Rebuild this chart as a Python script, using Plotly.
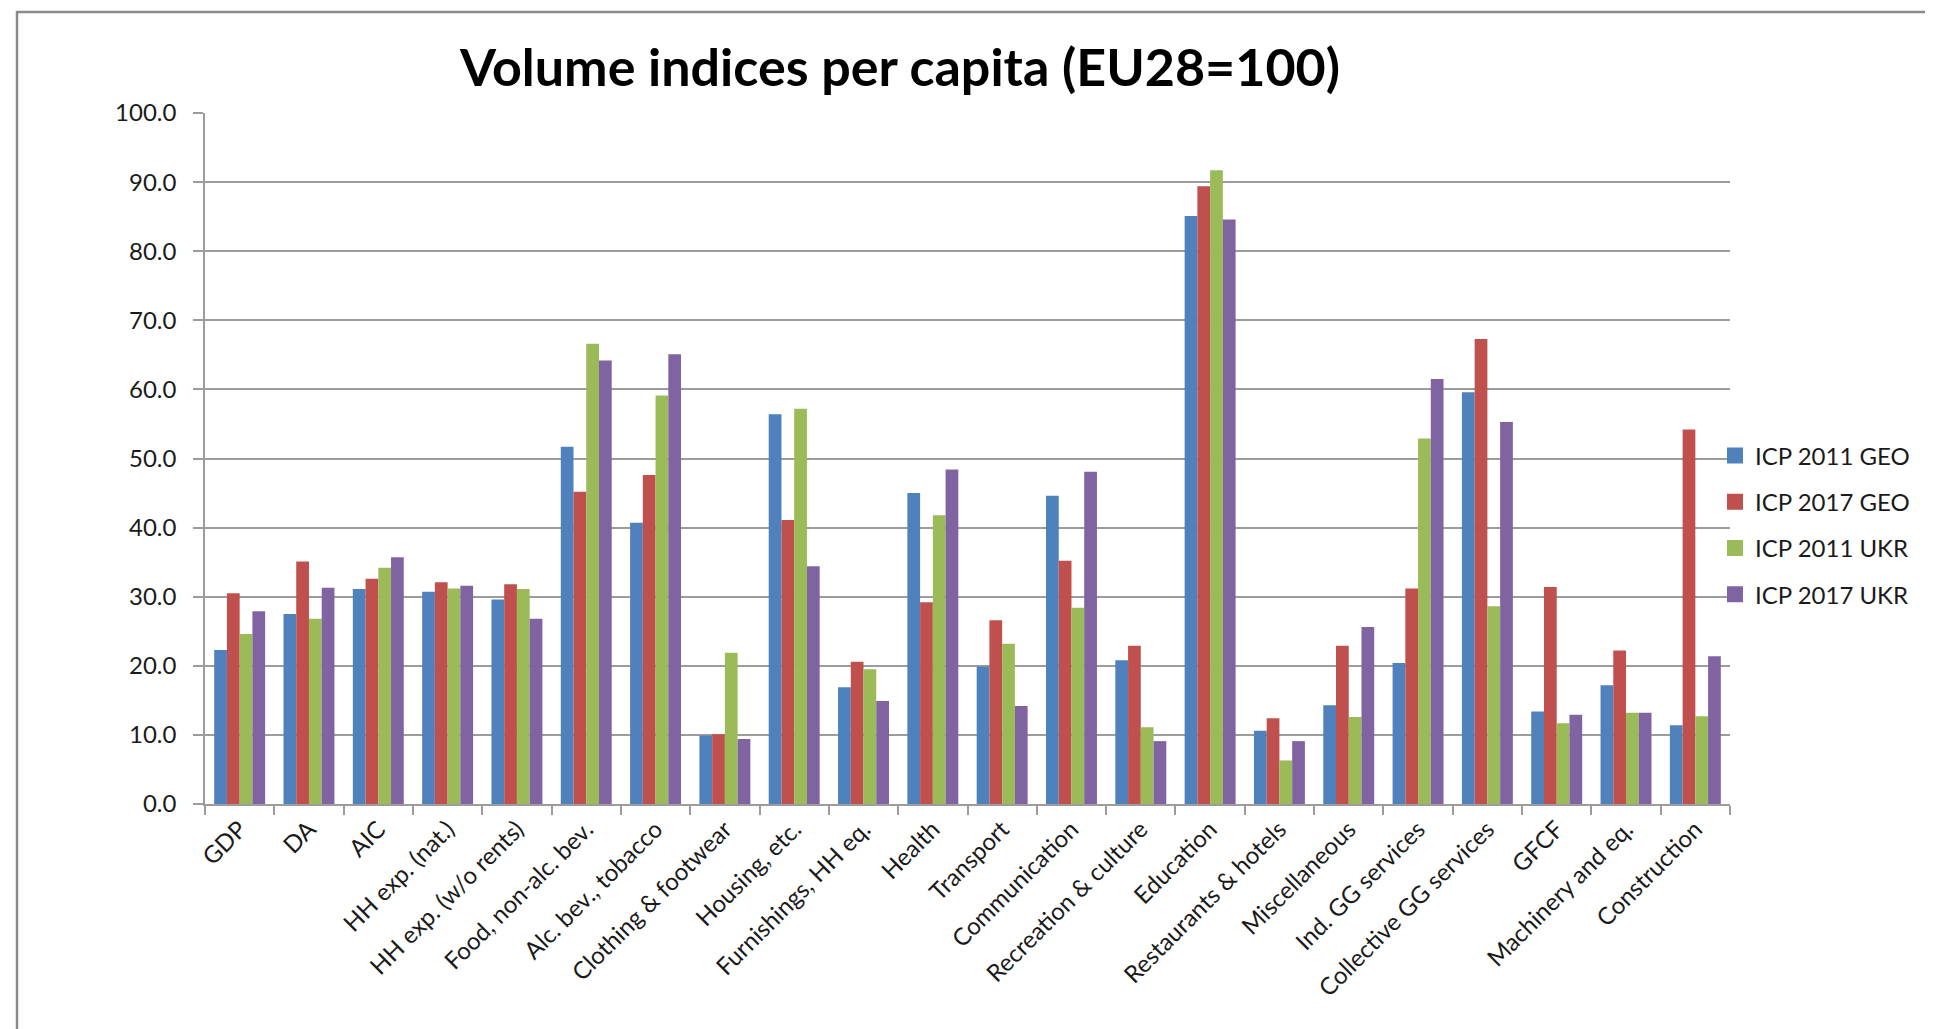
import plotly.graph_objects as go

categories = ["GDP", "DA", "AIC", "HH exp. (nat.)", "HH exp. (w/o rents)",
              "Food, non-alc. bev.", "Alc. bev., tobacco", "Clothing & footwear",
              "Housing, etc.", "Furnishings, HH eq.", "Health", "Transport",
              "Communication", "Recreation & culture", "Education",
              "Restaurants & hotels", "Miscellaneous", "Ind. GG services",
              "Collective GG services", "GFCF", "Machinery and eq.", "Construction"]

icp2011_geo = [22.3, 27.5, 31.1, 30.7, 29.6, 51.7, 40.7, 9.9, 56.4, 16.9, 45.0,
               19.9, 44.6, 20.8, 85.1, 10.6, 14.3, 20.4, 59.6, 13.4, 17.2, 11.4]
icp2017_geo = [30.5, 35.1, 32.6, 32.1, 31.8, 45.2, 47.6, 10.1, 41.1, 20.6, 29.2,
               26.6, 35.2, 22.9, 89.4, 12.4, 22.9, 31.2, 67.3, 31.4, 22.2, 54.2]
icp2011_ukr = [24.6, 26.8, 34.2, 31.2, 31.1, 66.6, 59.1, 21.9, 57.2, 19.5, 41.8,
               23.2, 28.4, 11.1, 91.7, 6.3, 12.6, 52.9, 28.6, 11.7, 13.2, 12.7]
icp2017_ukr = [27.9, 31.3, 35.7, 31.6, 26.8, 64.2, 65.1, 9.4, 34.4, 14.9, 48.4,
               14.2, 48.1, 9.1, 84.6, 9.1, 25.6, 61.5, 55.3, 12.9, 13.2, 21.4]

series_names = ["ICP 2011 GEO", "ICP 2017 GEO", "ICP 2011 UKR", "ICP 2017 UKR"]
series_values = [icp2011_geo, icp2017_geo, icp2011_ukr, icp2017_ukr]
series_colors = ["#4F81BD", "#C0504D", "#9BBB59", "#8064A2"]

y_ticks = [0, 10, 20, 30, 40, 50, 60, 70, 80, 90, 100]
title_text = "Volume indices per capita (EU28=100)"

W, H = 1933, 1029
L, R, T, B = 197, 1722, 105, 796

fig = go.Figure()
for name, vals, col in zip(series_names, series_values, series_colors):
    fig.add_trace(go.Bar(x=categories, y=vals, name=name, marker_color=col,
                         marker_line_width=0, legendgroup=name, showlegend=False))
# legend entries with larger square swatches (as in the original Excel legend)
for name, col in zip(series_names, series_colors):
    fig.add_trace(go.Scatter(x=[None], y=[None], mode="markers", name=name,
                             legendgroup=name, showlegend=True,
                             marker=dict(symbol="square", size=16, color=col,
                                         line=dict(width=0))))

grid = "#9c9c9c"
font = "Lato, 'Open Sans', sans-serif"

def px_x(p):
    return (p - L) / (R - L)

def px_y(p):
    return (B - p) / (B - T)

fig.update_layout(
    width=W, height=H,
    margin=dict(l=L, r=W - R, t=T, b=H - B, autoexpand=False),
    paper_bgcolor="white", plot_bgcolor="white",
    barmode="group", bargap=0.265, bargroupgap=0,
    font=dict(family=font, color="#1a1a1a"),
    showlegend=True,
    legend=dict(x=px_x(1707), xanchor="left", y=px_y(517), yanchor="middle",
                font=dict(size=24, family=font, color="#1a1a1a"),
                tracegroupgap=12, bgcolor="rgba(0,0,0,0)", itemclick=False,
                itemdoubleclick=False),
    xaxis=dict(type="category", showgrid=False, showline=True, linecolor=grid,
               linewidth=1.5, ticks="outside", tickson="boundaries", ticklen=9,
               tickcolor=grid, tickwidth=1.5, tickangle=-45,
               tickfont=dict(size=24, family=font, color="#1a1a1a"),
               fixedrange=True),
    yaxis=dict(range=[0, 100], tickvals=y_ticks, tickformat=".1f", showgrid=True,
               gridcolor=grid, gridwidth=1.5, showline=True, linecolor=grid,
               linewidth=1.5, ticks="outside", ticklen=10, tickcolor=grid,
               tickwidth=1.5, ticklabelstandoff=12,
               tickfont=dict(size=24, family=font, color="#1a1a1a"),
               zeroline=False, fixedrange=True),
)

fig.add_annotation(text="<b>" + title_text + "</b>", xref="paper", yref="paper",
                   x=px_x(891), y=px_y(58), xanchor="center", yanchor="middle",
                   showarrow=False, font=dict(size=52, family=font, color="#000000"))

fig.add_shape(type="rect", xref="paper", yref="paper",
              x0=px_x(9), x1=px_x(1926), y0=px_y(1080), y1=px_y(4),
              line=dict(color="#8a8a8a", width=2.5), fillcolor="rgba(0,0,0,0)",
              layer="below")

fig.write_html("out.html")
